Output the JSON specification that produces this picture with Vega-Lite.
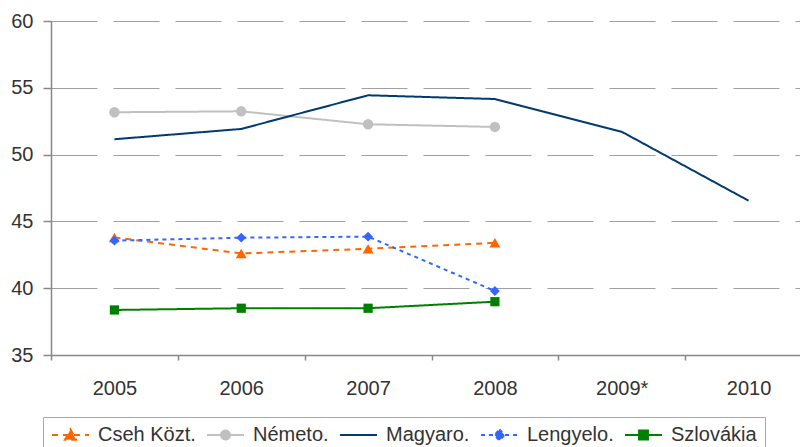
{
  "$schema": "https://vega.github.io/schema/vega-lite/v6.json",
  "width": 749,
  "height": 334,
  "autosize": {"type": "none"},
  "padding": {"left": 51, "top": 21, "right": 0, "bottom": 92},
  "background": "white",
  "config": {
    "view": {"stroke": null},
    "font": "Liberation Sans"
  },
  "data": {
    "values": [
      {"country": "Cseh Közt.", "year": "2005", "value": 43.8},
      {"country": "Cseh Közt.", "year": "2006", "value": 42.6},
      {"country": "Cseh Közt.", "year": "2007", "value": 42.95},
      {"country": "Cseh Közt.", "year": "2008", "value": 43.4},
      {"country": "Németo.", "year": "2005", "value": 53.17},
      {"country": "Németo.", "year": "2006", "value": 53.24},
      {"country": "Németo.", "year": "2007", "value": 52.27},
      {"country": "Németo.", "year": "2008", "value": 52.07},
      {"country": "Magyaro.", "year": "2005", "value": 51.15},
      {"country": "Magyaro.", "year": "2006", "value": 51.92},
      {"country": "Magyaro.", "year": "2007", "value": 54.44},
      {"country": "Magyaro.", "year": "2008", "value": 54.16},
      {"country": "Magyaro.", "year": "2009*", "value": 51.71},
      {"country": "Magyaro.", "year": "2010", "value": 46.55},
      {"country": "Lengyelo.", "year": "2005", "value": 43.56},
      {"country": "Lengyelo.", "year": "2006", "value": 43.78},
      {"country": "Lengyelo.", "year": "2007", "value": 43.86},
      {"country": "Lengyelo.", "year": "2008", "value": 39.79},
      {"country": "Szlovákia", "year": "2005", "value": 38.37},
      {"country": "Szlovákia", "year": "2006", "value": 38.5},
      {"country": "Szlovákia", "year": "2007", "value": 38.5},
      {"country": "Szlovákia", "year": "2008", "value": 38.99}
    ]
  },
  "encoding": {
    "x": {
      "field": "year",
      "type": "ordinal",
      "sort": ["2005", "2006", "2007", "2008", "2009*", "2010"],
      "scale": {"type": "band", "domain": ["2005", "2006", "2007", "2008", "2009*", "2010"], "range": [0, 761], "paddingInner": 0, "paddingOuter": 0},
      "axis": {
        "title": null,
        "labelAngle": 0,
        "labelFontSize": 20,
        "labelColor": "#333333",
        "labelFont": "Liberation Sans",
        "domainColor": "#888888",
        "domainWidth": 1.5,
        "tickColor": "#888888",
        "tickWidth": 1.5,
        "tickSize": 5,
        "tickBand": "extent",
        "labelPadding": 18,
        "grid": false
      }
    },
    "y": {
      "field": "value",
      "type": "quantitative",
      "scale": {"domain": [35, 60], "nice": false, "zero": false},
      "axis": {
        "title": null,
        "values": [35, 40, 45, 50, 55, 60],
        "labelFontSize": 20,
        "labelColor": "#333333",
        "labelFont": "Liberation Sans",
        "labelPadding": 10,
        "domainColor": "#888888",
        "domainWidth": 1.5,
        "tickColor": "#888888",
        "tickWidth": 1.5,
        "tickSize": 8,
        "grid": true,
        "gridColor": "#a0a0a0",
        "gridWidth": 1.2,
        "gridDash": [46, 16]
      }
    },
    "color": {
      "field": "country",
      "type": "nominal",
      "scale": {
        "domain": ["Cseh Közt.", "Németo.", "Magyaro.", "Lengyelo.", "Szlovákia"],
        "range": ["#ff6600", "#c0c0c0", "#003a70", "#3366ff", "#008000"]
      }
    }
  },
  "layer": [
    {
      "mark": {"type": "line", "strokeWidth": 2},
      "encoding": {
        "strokeDash": {
          "field": "country",
          "type": "nominal",
          "scale": {
            "domain": ["Cseh Közt.", "Németo.", "Magyaro.", "Lengyelo.", "Szlovákia"],
            "range": [[6, 5], [1, 0], [1, 0], [4, 4], [1, 0]]
          },
          "legend": null
        },
        "color": {
          "field": "country",
          "type": "nominal",
          "legend": {
            "title": null,
            "orient": "none",
            "legendX": -8,
            "legendY": 396,
            "direction": "horizontal",
            "padding": 8,
            "strokeColor": "#aaaaaa",
            "fillColor": "white",
            "labelFontSize": 20,
            "labelFont": "Liberation Sans",
            "labelColor": "#333333",
            "labelLimit": 0,
            "labelOffset": 8,
            "columnPadding": 10,
            "symbolSize": 1369,
            "symbolStrokeWidth": 2,
            "clipHeight": 20,
            "encode": {
              "symbols": {
                "update": {
                  "shape": {"signal": "datum.value === 'Cseh Közt.' ? 'M-1,0H1M-0.3,0.25L0,-0.3L0.3,0.25Z' : datum.value === 'Németo.' ? 'M-1,0H1M-0.24,0A0.24,0.24 0 1,0 0.24,0A0.24,0.24 0 1,0 -0.24,0Z' : datum.value === 'Lengyelo.' ? 'M-1,0H1M0,-0.3L0.27,0L0,0.3L-0.27,0Z' : datum.value === 'Szlovákia' ? 'M-1,0H1M-0.24,-0.24H0.24V0.24H-0.24Z' : 'M-1,0H1'"},
                  "fill": {"scale": "color", "field": "value"},
                  "stroke": {"scale": "color", "field": "value"},
                  "strokeDash": {"signal": "datum.value === 'Cseh Közt.' ? [4, 4] : datum.value === 'Lengyelo.' ? [3, 4] : [1, 0]"},
                  "opacity": {"value": 1}
                }
              }
            }
          }
        }
      }
    },
    {
      "transform": [{"filter": "datum.country !== 'Magyaro.'"}],
      "mark": {"type": "point", "filled": true, "opacity": 1},
      "encoding": {
        "shape": {
          "field": "country",
          "type": "nominal",
          "scale": {
            "domain": ["Cseh Közt.", "Németo.", "Lengyelo.", "Szlovákia"],
            "range": ["triangle-up", "circle", "diamond", "square"]
          },
          "legend": null
        },
        "size": {
          "field": "country",
          "type": "nominal",
          "scale": {
            "domain": ["Cseh Közt.", "Németo.", "Lengyelo.", "Szlovákia"],
            "range": [120, 85, 110, 100]
          },
          "legend": null
        },
        "color": {"field": "country", "type": "nominal", "legend": null}
      }
    }
  ]
}
